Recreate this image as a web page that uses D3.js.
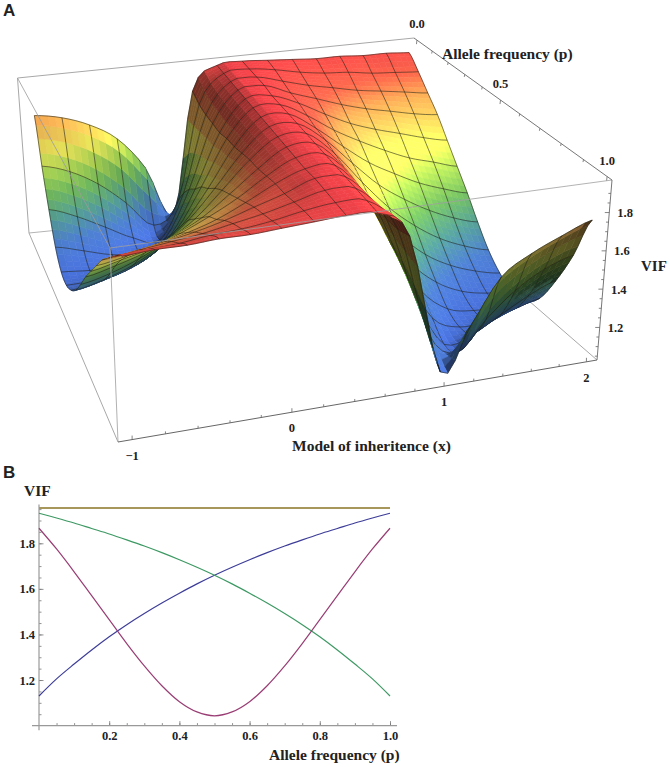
<!DOCTYPE html>
<html>
<head>
<meta charset="utf-8">
<script src="https://cdnjs.cloudflare.com/ajax/libs/d3/7.8.5/d3.min.js"></script>
<style>
body { margin: 0; background: #fff; }
text { font-family: "Liberation Serif", serif; font-weight: bold; fill: #222; }
</style>
</head>
<body>
<div id="chart"></div>
<script>
// Panel A: VIF read at the mesh crossings, one list per x value
const xGrid = [-1, -0.8, -0.6, -0.4, -0.2, 0, 0.2, 0.4, 0.6, 0.8, 1, 1.2, 1.4, 1.6, 1.8, 2];
const pGrid = [0, 1/15, 2/15, 3/15, 4/15, 5/15, 6/15, 7/15, 8/15, 9/15, 10/15, 11/15, 12/15, 13/15, 14/15, 1];
const vifXm10 = [1.75,1.50,1.30,1.14,1.06,1.05,1.09,1.16,1.26,1.37,1.47,1.57,1.67,1.75,1.83,1.90];
const vifXm08 = [1.72,1.45,1.24,1.10,1.05,1.06,1.12,1.20,1.30,1.41,1.51,1.60,1.69,1.77,1.84,1.91];
const vifXm06 = [1.66,1.36,1.16,1.06,1.05,1.09,1.17,1.26,1.36,1.46,1.55,1.64,1.72,1.79,1.85,1.91];
const vifXm04 = [1.56,1.23,1.08,1.05,1.08,1.16,1.25,1.35,1.44,1.53,1.61,1.68,1.75,1.81,1.87,1.92];
const vifXm02 = [1.37,1.08,1.05,1.12,1.20,1.29,1.38,1.47,1.54,1.61,1.68,1.73,1.79,1.84,1.88,1.92];
const vifX00 = [1.07,1.21,1.31,1.39,1.45,1.52,1.57,1.63,1.68,1.72,1.76,1.80,1.84,1.87,1.90,1.93];
const vifX02 = [1.80,1.77,1.76,1.76,1.76,1.78,1.79,1.81,1.83,1.84,1.86,1.88,1.89,1.91,1.93,1.94];
const vifX04 = [1.94,1.94,1.94,1.94,1.94,1.94,1.94,1.94,1.94,1.94,1.94,1.94,1.95,1.95,1.95,1.95];
const vifX06 = [1.95,1.95,1.95,1.95,1.94,1.94,1.94,1.94,1.94,1.94,1.94,1.94,1.94,1.94,1.94,1.94];
const vifX08 = [1.94,1.93,1.91,1.89,1.88,1.86,1.84,1.83,1.81,1.79,1.78,1.76,1.76,1.76,1.77,1.80];
const vifX10 = [1.93,1.90,1.87,1.84,1.80,1.76,1.72,1.68,1.63,1.57,1.52,1.45,1.39,1.31,1.21,1.08];
const vifX12 = [1.92,1.88,1.84,1.79,1.73,1.68,1.61,1.54,1.47,1.38,1.29,1.20,1.12,1.05,1.08,1.29];
const vifX14 = [1.92,1.87,1.81,1.75,1.68,1.61,1.53,1.44,1.35,1.25,1.16,1.08,1.05,1.08,1.23,1.52];
const vifX16 = [1.91,1.85,1.79,1.72,1.64,1.55,1.46,1.36,1.26,1.17,1.09,1.05,1.06,1.16,1.36,1.62];
const vifX18 = [1.91,1.84,1.77,1.69,1.60,1.51,1.41,1.30,1.20,1.12,1.06,1.05,1.10,1.24,1.45,1.69];
const vifX20 = [1.90,1.83,1.75,1.67,1.57,1.47,1.37,1.26,1.16,1.09,1.05,1.06,1.14,1.30,1.50,1.75];
const surface = [vifXm10, vifXm08, vifXm06, vifXm04, vifXm02, vifX00, vifX02, vifX04,
                 vifX06, vifX08, vifX10, vifX12, vifX14, vifX16, vifX18, vifX20];

const xTicks = [-1, 0, 1, 2];
const xMinor = [-1, -0.8, -0.6, -0.4, -0.2, 0, 0.2, 0.4, 0.6, 0.8, 1, 1.2, 1.4, 1.6, 1.8, 2];
const pTicks = [0, 0.5, 1];
const pMinor = [0, 0.1, 0.2, 0.3, 0.4, 0.5, 0.6, 0.7, 0.8, 0.9, 1];
const zTicks = [1.2, 1.4, 1.6, 1.8];
const zMinor = [1.05, 1.1, 1.15, 1.2, 1.25, 1.3, 1.35, 1.4, 1.45, 1.5, 1.55, 1.6, 1.65, 1.7, 1.75, 1.8, 1.85, 1.9];

// Panel B: curves against allele frequency
const pLine = [0,0.05,0.1,0.15,0.2,0.25,0.3,0.35,0.4,0.45,0.5,0.55,0.6,0.65,0.7,0.75,0.8,0.85,0.9,0.95,1];
const blueLine = [1.13,1.205,1.27,1.332,1.39,1.443,1.492,1.538,1.581,1.622,1.66,1.695,1.728,1.759,1.788,1.815,1.841,1.865,1.889,1.911,1.932];
const greenLine = [1.932,1.911,1.889,1.865,1.841,1.815,1.788,1.759,1.728,1.695,1.66,1.622,1.581,1.538,1.492,1.443,1.39,1.332,1.27,1.205,1.13];
const purpleLine = [1.866,1.775,1.675,1.57,1.465,1.36,1.262,1.175,1.105,1.06,1.043,1.06,1.105,1.175,1.262,1.36,1.465,1.57,1.675,1.775,1.866];
const khakiLine = [1.955,1.955,1.955,1.955,1.955,1.955,1.955,1.955,1.955,1.955,1.955,1.955,1.955,1.955,1.955,1.955,1.955,1.955,1.955,1.955,1.955];
const bTicksX = [0.2, 0.4, 0.6, 0.8, 1.0];
const bMinorX = [0.05,0.1,0.15,0.2,0.25,0.3,0.35,0.4,0.45,0.5,0.55,0.6,0.65,0.7,0.75,0.8,0.85,0.9,0.95,1];
const bTicksY = [1.2, 1.4, 1.6, 1.8];
const bMinorY = [1.05,1.1,1.15,1.2,1.25,1.3,1.35,1.4,1.45,1.5,1.55,1.6,1.65,1.7,1.75,1.8,1.85,1.9,1.95];

const svg = d3.select("#chart").append("svg").attr("width", 670).attr("height", 767);

// box corners on the page, in order (xmin,pmin) (xmax,pmin) (xmax,pmax) (xmin,pmax)
const topQuad = [[17.5, 78], [414, 38], [612, 180], [110, 248]];
const botQuad = [[29, 233], [407, 195], [597, 360], [118, 442]];

function homography(q) {
    const dx1 = q[1][0] - q[2][0], dx2 = q[3][0] - q[2][0], sx = q[0][0] - q[1][0] + q[2][0] - q[3][0];
    const dy1 = q[1][1] - q[2][1], dy2 = q[3][1] - q[2][1], sy = q[0][1] - q[1][1] + q[2][1] - q[3][1];
    const den = dx1 * dy2 - dx2 * dy1;
    const g = (sx * dy2 - dx2 * sy) / den, h = (dx1 * sy - sx * dy1) / den;
    const a = q[1][0] - q[0][0] + g * q[1][0], b = q[3][0] - q[0][0] + h * q[3][0];
    const d = q[1][1] - q[0][1] + g * q[1][1], e = q[3][1] - q[0][1] + h * q[3][1];
    return (u, v) => {
        const w = g * u + h * v + 1;
        return [(a * u + b * v + q[0][0]) / w, (d * u + e * v + q[0][1]) / w];
    };
}
const topMap = homography(topQuad), botMap = homography(botQuad);

// x knots differ a bit between the front and back of the box so mesh lines land as in the picture
const uFront = d3.scaleLinear().domain([-1.06, -1, 0, 1, 2, 2.06]).range([0, 0.025, 0.325, 0.643, 0.974, 1]);
const uBack = d3.scaleLinear().domain([-1.06, -1, 0, 1, 2, 2.06]).range([0, 0.03, 0.35, 0.67, 0.98, 1]);
const vScale = d3.scaleLinear().domain([-0.02, 1.02]).range([0, 1]);
const hScale = d3.scaleLinear().domain([1.03, 1.97]).range([0, 1]);

function project(x, p, z) {
    const v = vScale(p), h = hScale(z);
    const u = uBack(x) * (1 - v) + uFront(x) * v;
    const t = topMap(u, v), b = botMap(u, v);
    return [b[0] + (t[0] - b[0]) * h, b[1] + (t[1] - b[1]) * h];
}

// rainbow by height, then lit
const zColor = d3.scaleLinear()
    .domain([1.04, 1.15, 1.26, 1.37, 1.47, 1.57, 1.67, 1.75, 1.83, 1.95])
    .range(["#4266c8", "#4673be", "#50968c", "#6eb45a", "#aad755", "#faf55f", "#fdc85a", "#f8a050", "#eb5f46", "#e54045"]);

const camera = [-0.4, 2.8, 2.4];
const light = [0.55, 0.35, 0.8];
const lightLen = Math.hypot(...light);
const fill = [-0.6, -0.3, 0.25];
const fillLen = Math.hypot(...fill);

function catmull(a, b, c, d, t) {
    return 0.5 * (2 * b + (c - a) * t + (2 * a - 5 * b + 4 * c - d) * t * t + (3 * b - a - 3 * c + d) * t * t * t);
}
function vifAt(fi, fj) {
    const i = Math.min(Math.floor(fi), xGrid.length - 2), j = Math.min(Math.floor(fj), pGrid.length - 2);
    const col = k => surface[Math.max(0, Math.min(xGrid.length - 1, k))];
    const row = (c, k) => c[Math.max(0, Math.min(pGrid.length - 1, k))];
    const vals = [-1, 0, 1, 2].map(di => {
        const c = col(i + di);
        return catmull(row(c, j - 1), row(c, j), row(c, j + 1), row(c, j + 2), fj - j);
    });
    return Math.max(1.04, Math.min(1.955, catmull(vals[0], vals[1], vals[2], vals[3], fi - i)));
}
const fx = fi => -1 + fi * 0.2;
const fp = fj => fj / 15;
const world = (fi, fj, z) => [uFront(fx(fi)), vScale(fp(fj)), hScale(z) * 0.45];

const sub = 4;
const items = [];
const lineGen = d3.line();
for (let a = 0; a < 15 * sub; a++) {
    for (let b = 0; b < 15 * sub; b++) {
        const f0 = a / sub, f1 = (a + 1) / sub, g0 = b / sub, g1 = (b + 1) / sub;
        const z00 = vifAt(f0, g0), z10 = vifAt(f1, g0), z11 = vifAt(f1, g1), z01 = vifAt(f0, g1);
        const zMid = (z00 + z10 + z11 + z01) / 4;
        const w00 = world(f0, g0, z00), w10 = world(f1, g0, z10), w11 = world(f1, g1, z11), w01 = world(f0, g1, z01);
        const center = [0, 1, 2].map(k => (w00[k] + w10[k] + w11[k] + w01[k]) / 4);
        const toCam = [camera[0] - center[0], camera[1] - center[1], camera[2] - center[2]];
        const depth = Math.hypot(...toCam);
        const du = (w10[0] - w00[0]), dv = (w01[1] - w00[1]);
        const dzu = ((w10[2] + w11[2]) - (w00[2] + w01[2])) / 2 / du;
        const dzv = ((w01[2] + w11[2]) - (w00[2] + w10[2])) / 2 / dv;
        const len = Math.hypot(dzu, dzv, 1);
        let dot = (-dzu * light[0] - dzv * light[1] + light[2]) / (len * lightLen);
        let fillDot = (-dzu * fill[0] - dzv * fill[1] + fill[2]) / (len * fillLen);
        // faces turned away from the camera show their unlit underside
        if (-dzu * toCam[0] - dzv * toCam[1] + toCam[2] < 0) { dot = -dot; fillDot = 0; }
        const shade = 0.3 + 0.88 * Math.max(0, dot) + 0.22 * Math.max(0, fillDot);
        const c = d3.rgb(zColor(zMid));
        const col = d3.rgb(Math.min(255, c.r * shade), Math.min(255, c.g * shade), Math.min(255, c.b * shade)).formatHex();
        const poly = [[f0, g0, z00], [f1, g0, z10], [f1, g1, z11], [f0, g1, z01]].map(q => project(fx(q[0]), fp(q[1]), q[2]));
        items.push({ depth: depth, d: lineGen(poly) + "Z", fill: col });
        // mesh segments sit on the grid lines
        if (b % sub === 0) items.push({ depth: depth - 0.02, d: lineGen([poly[0], poly[1]]), mesh: true });
        if (a % sub === 0) items.push({ depth: depth - 0.02, d: lineGen([poly[0], poly[3]]), mesh: true });
        if (b === 15 * sub - 1) items.push({ depth: depth - 0.02, d: lineGen([poly[3], poly[2]]), mesh: true });
        if (a === 15 * sub - 1) items.push({ depth: depth - 0.02, d: lineGen([poly[1], poly[2]]), mesh: true });
    }
}
items.sort((a, b) => b.depth - a.depth);

// box edges behind the surface
const xLo = -1.06, xHi = 2.06;
const pLo = vScale.domain()[0], pHi = vScale.domain()[1];
const zLo = hScale.domain()[0], zHi = hScale.domain()[1];
function edge(g, a, b, color, width) {
    g.append("path").attr("d", lineGen([project(...a), project(...b)]))
        .attr("fill", "none").attr("stroke", color).attr("stroke-width", width);
}
const backBox = svg.append("g");
edge(backBox, [xLo, pLo, zHi], [xHi, pLo, zHi], "#a8a8a8", 1);
edge(backBox, [xLo, pLo, zLo], [xHi, pLo, zLo], "#b4b4b4", 1);
edge(backBox, [xHi, pLo, zLo], [xHi, pHi, zLo], "#a8a8a8", 1);
edge(backBox, [xLo, pLo, zHi], [xLo, pLo, zLo], "#a8a8a8", 1);
edge(backBox, [xLo, pLo, zLo], [xLo, pHi, zLo], "#a8a8a8", 1);

svg.append("g").selectAll("path").data(items).join("path")
    .attr("d", d => d.d)
    .attr("fill", d => d.mesh ? "none" : d.fill)
    .attr("stroke", d => d.mesh ? "#1a1a10" : d.fill)
    .attr("stroke-width", d => d.mesh ? 0.7 : 0.6)
    .attr("stroke-opacity", d => d.mesh ? 0.78 : 1);

// box edges in front of the surface, and the three axes
const frontBox = svg.append("g");
edge(frontBox, [xLo, pLo, zHi], [xLo, pHi, zHi], "#9a9a9a", 0.8);
edge(frontBox, [xLo, pHi, zHi], [xHi, pHi, zHi], "#a0a0a0", 0.8);
edge(frontBox, [xLo, pHi, zHi], [xLo, pHi, zLo], "#a8a8a8", 0.9);
edge(frontBox, [xLo, pHi, zLo], [xHi, pHi, zLo], "#666", 1);
edge(frontBox, [xHi, pLo, zHi], [xHi, pHi, zHi], "#777", 1);
edge(frontBox, [xHi, pHi, zHi], [xHi, pHi, zLo], "#777", 1);

const tick = (pt, dx, dy) => frontBox.append("line")
    .attr("x1", pt[0]).attr("y1", pt[1]).attr("x2", pt[0] + dx).attr("y2", pt[1] + dy)
    .attr("stroke", "#666").attr("stroke-width", 0.8);
xMinor.forEach(v => tick(project(v, pHi, zLo), 0, xTicks.includes(v) ? -4 : -2.5));
pMinor.forEach(v => tick(project(xHi, v, zHi), -0.5, pTicks.includes(v) ? 4 : 2.5));
zMinor.forEach(v => tick(project(xHi, pHi, v), zTicks.includes(v) ? -4.5 : -2.5, 0));

function label(txt, x, y, size, anchor) {
    svg.append("text").attr("x", x).attr("y", y).attr("font-size", size)
        .attr("text-anchor", anchor || "start").text(txt);
}
xTicks.forEach(v => {
    const pt = project(v, pHi, zLo);
    label(v < 0 ? "\u2212" + Math.abs(v) : v, pt[0], pt[1] + 20, 12.5, "middle");
});
pTicks.forEach(v => {
    const pt = project(xHi, v, zHi);
    label(v.toFixed(1), pt[0], pt[1] - 12, 12.5, "middle");
});
zTicks.forEach(v => {
    const pt = project(xHi, pHi, v);
    label(v.toFixed(1), pt[0] + 8, pt[1] + 4.5, 12.5);
});
label("Allele frequency (p)", 442, 59, 15.5);
label("Model of inheritence (x)", 292, 451, 15.5);
label("VIF", 641, 271, 15);

svg.append("text").attr("x", 3).attr("y", 16).attr("font-size", 17)
    .style("font-family", "'Liberation Sans', sans-serif").text("A");
svg.append("text").attr("x", 3).attr("y", 478).attr("font-size", 17)
    .style("font-family", "'Liberation Sans', sans-serif").text("B");

// Panel B
const bx = d3.scaleLinear().domain([0, 1]).range([39, 390]);
const by = d3.scaleLinear().domain([1.0, 1.8]).range([725.6, 543.3]);

const gMinorX = svg.append("g").attr("transform", "translate(0,725.6)")
    .call(d3.axisBottom(bx).tickValues(bMinorX).tickSizeInner(-2.5).tickSizeOuter(0).tickFormat(""));
const gMajorX = svg.append("g").attr("transform", "translate(0,725.6)")
    .call(d3.axisBottom(bx).tickValues(bTicksX).tickSizeInner(-4.5).tickSizeOuter(0).tickPadding(6).tickFormat(d3.format(".1f")));
const gMinorY = svg.append("g").attr("transform", "translate(39,0)")
    .call(d3.axisLeft(by).tickValues(bMinorY).tickSizeInner(-2.5).tickSizeOuter(0).tickFormat(""));
const gMajorY = svg.append("g").attr("transform", "translate(39,0)")
    .call(d3.axisLeft(by).tickValues(bTicksY).tickSizeInner(-4.5).tickSizeOuter(0).tickPadding(4).tickFormat(d3.format(".1f")));
[gMinorX, gMajorX, gMinorY, gMajorY].forEach(g => {
    g.select(".domain").remove();
    g.selectAll("line").attr("stroke", "#777").attr("stroke-width", 0.8);
    g.selectAll("text").attr("font-size", 12.5).attr("font-family", null).attr("fill", "#222");
});
svg.append("line").attr("x1", bx(-0.02)).attr("x2", bx(1.02)).attr("y1", by(1)).attr("y2", by(1))
    .attr("stroke", "#999").attr("stroke-width", 1.2);
svg.append("line").attr("x1", bx(0)).attr("x2", bx(0)).attr("y1", by(1.97)).attr("y2", by(0.98))
    .attr("stroke", "#999").attr("stroke-width", 1.2);

const curve = d3.line().x((d, i) => bx(pLine[i])).y(d => by(d)).curve(d3.curveCatmullRom);
const series = [
    { v: khakiLine, c: "#a8975a", w: 2 },
    { v: blueLine, c: "#3d3d99", w: 1.2 },
    { v: greenLine, c: "#3d9963", w: 1.2 },
    { v: purpleLine, c: "#993d74", w: 1.2 }
];
series.forEach(s => {
    svg.append("path").datum(s.v).attr("d", curve)
        .attr("fill", "none").attr("stroke", s.c).attr("stroke-width", s.w);
});
label("VIF", 24, 496, 15.5);
label("Allele frequency (p)", 269, 760, 15.5);
</script>
</body>
</html>
